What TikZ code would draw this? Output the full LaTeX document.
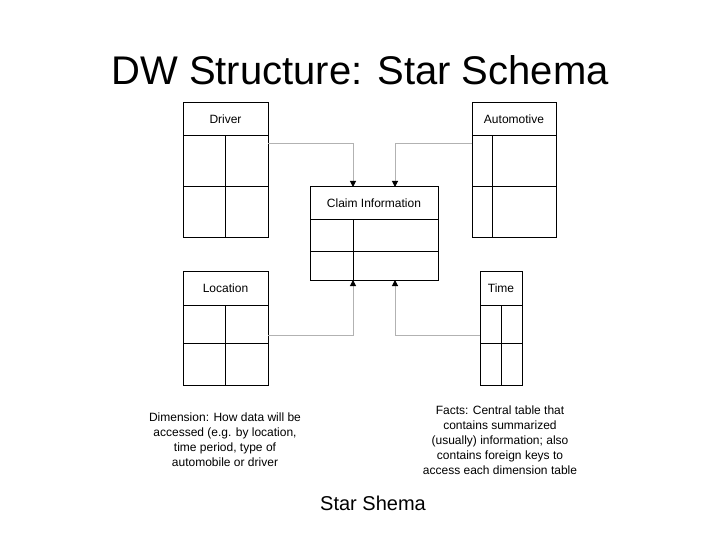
\documentclass[tikz,border=0pt]{standalone}
\usepackage{fontspec}
\setmainfont{Liberation Sans}
\usetikzlibrary{arrows.meta}
\begin{document}
\begin{tikzpicture}[x=1pt,y=-1pt,
  tbl/.style={draw=black,line width=1pt},
  conn/.style={draw=gray!60,line width=1pt,-{Triangle[black,length=6pt,width=6pt]}},
  lbl/.style={font=\fontsize{12}{12}\selectfont,inner sep=0pt},
  note/.style={font=\fontsize{12}{15}\selectfont,align=center,inner sep=0pt}]
\useasboundingbox (0,0) rectangle (720,540);
\node[font=\fontsize{40}{40}\selectfont] (title) at (360,70) {DW Structure: Star Schema};
% Driver
\draw[tbl] (183,103) rectangle (268,237);
\draw[tbl] (183,136) -- (268,136) (183,187) -- (268,187) (225,136) -- (225,237);
\node[lbl] (driver) at (225.5,119) {Driver};
\coordinate (dr) at (268,144);
% Automotive
\draw[tbl] (472,103) rectangle (556,237);
\draw[tbl] (472,136) -- (556,136) (472,187) -- (556,187) (492,136) -- (492,237);
\node[lbl] (auto) at (514,119) {Automotive};
\coordinate (au) at (472,144);
% Location
\draw[tbl] (183,271) rectangle (268,385);
\draw[tbl] (183,305) -- (268,305) (183,343) -- (268,343) (225,305) -- (225,385);
\node[lbl] (loc) at (225.5,288) {Location};
\coordinate (lo) at (268,335);
% Time
\draw[tbl] (480,271) rectangle (522,385);
\draw[tbl] (480,305) -- (522,305) (480,343) -- (522,343) (501,305) -- (501,385);
\node[lbl] (time) at (501,288) {Time};
\coordinate (ti) at (480,335);
% Claim
\draw[tbl] (310,187) rectangle (438,280);
\draw[tbl] (310,220) -- (438,220) (310,251) -- (438,251) (353,220) -- (353,280);
\node[lbl] (claim) at (374,203) {Claim Information};
\coordinate (c1) at (353,187);
\coordinate (c2) at (395,187);
\coordinate (c3) at (353,280);
\coordinate (c4) at (395,280);
\draw[conn] (dr) -| (c1);
\draw[conn] (au) -| (c2);
\draw[conn] (lo) -| (c3);
\draw[conn] (ti) -| (c4);
\node[note] (dim) at (225,440) {Dimension: How data will be\\accessed (e.g. by location,\\time period, type of\\automobile or driver};
\node[note] (facts) at (500,440) {Facts: Central table that\\contains summarized\\(usually) information; also\\contains foreign keys to\\access each dimension table};
\node[font=\fontsize{20}{20}\selectfont] (cap) at (373,503) {Star Shema};
\end{tikzpicture}
\end{document}
